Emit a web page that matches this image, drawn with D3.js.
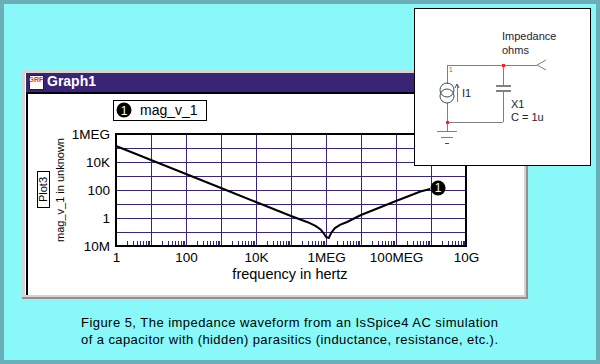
<!DOCTYPE html>
<html>
<head>
<meta charset="utf-8">
<title>Graph1</title>
<script src="https://cdn.jsdelivr.net/npm/d3@7"></script>
<style>
html, body { margin: 0; padding: 0; background: #88f8f8; }
svg { display: block; font-family: "Liberation Sans", Arial, sans-serif; }
</style>
</head>
<body>
<div id="chart"></div>
<script>
// valeurs
var frequency = [1, 10, 100, 1e3, 1e4, 1e5, 3e5, 5e5, 7e5, 8.5e5, 1e6, 1.2e6, 1.4e6, 1.8e6, 2.5e6, 4e6, 1e7, 1e8, 5e8, 9.4e8];
var magnitude = [1.39e5, 1.39e4, 1390, 139, 13.9, 1.39, 0.5, 0.27, 0.15, 0.085, 0.044, 0.037, 0.085, 0.19, 0.32, 0.52, 1.64, 16.4, 78, 118];

var xTicks = [1, 100, 1e4, 1e6, 1e8, 1e10];
var xTickLabels = ["1", "100", "10K", "1MEG", "100MEG", "10G"];
var yTicks = [1e6, 1e4, 100, 1, 0.01];
var yTickLabels = ["1MEG", "10K", "100", "1", "10M"];

var captionLines = [
    "Figure 5, The impedance waveform from an IsSpice4 AC simulation",
    "of a capacitor with (hidden) parasitics (inductance, resistance, etc.)."
];

var W = 600, H = 364;
var plot = {left: 116, right: 466, top: 134, bottom: 246};
var grid = "#3a2476", wire = "#808080";

var svg = d3.select("#chart").append("svg")
    .attr("width", W)
    .attr("height", H);

function rect(x, y, w, h, fill, stroke) {
    return svg.append("rect")
        .attr("x", x).attr("y", y)
        .attr("width", w).attr("height", h)
        .attr("fill", fill)
        .attr("stroke", stroke || "none")
        .attr("shape-rendering", "crispEdges");
}

function line(x1, y1, x2, y2, color, sw) {
    return svg.append("line")
        .attr("x1", x1).attr("y1", y1)
        .attr("x2", x2).attr("y2", y2)
        .attr("stroke", color)
        .attr("stroke-width", sw || 1)
        .attr("shape-rendering", "crispEdges");
}

function label(x, y, txt, size, anchor, color) {
    return svg.append("text")
        .attr("x", x).attr("y", y)
        .attr("font-size", size)
        .attr("text-anchor", anchor || "start")
        .attr("fill", color || "#000")
        .text(txt);
}

// fond et bordure
rect(0, 0, W, H, "#6aafb8");
rect(4, 4, W - 8, H - 8, "#88f8f8");

// fenetre Graph1
rect(22, 70, 506, 229, "#909090");
rect(22, 70, 504, 227, "#d4d4d4");
rect(25, 73, 499, 222, "#fff");
rect(26, 73, 498, 19, grid);
rect(26, 92, 498, 2, "#000");
rect(26, 92, 2, 203, "#000");
rect(28, 94, 496, 200, "#fff");

// icone + titre
rect(29, 75, 14, 14, "#fff", "#222");
svg.append("text").attr("x", 36).attr("y", 82)
    .attr("font-size", 7).attr("font-weight", "bold")
    .attr("text-anchor", "middle").attr("fill", "#e8301c").text("GRF");
label(47, 86, "Graph1", 14, "start", "#fff").attr("font-weight", "bold");

// echelles
var x = d3.scaleLog().domain([1, 1e10]).range([plot.left, plot.right]);
var y = d3.scaleLog().domain([0.01, 1e6]).range([plot.bottom, plot.top]);

// grille : une ligne par decade
var decadesX = d3.range(0, 11).map(function(d) { return Math.pow(10, d); });
var decadesY = d3.range(-2, 7).map(function(d) { return Math.pow(10, d); });

svg.append("g")
    .attr("transform", "translate(0," + plot.bottom + ")")
    .call(d3.axisBottom(x).tickValues(decadesX).tickSize(plot.top - plot.bottom).tickFormat(""))
    .call(function(g) { g.select(".domain").remove(); })
    .selectAll("line").attr("stroke", grid).attr("shape-rendering", "crispEdges");

svg.append("g")
    .attr("transform", "translate(" + plot.left + ",0)")
    .call(d3.axisLeft(y).tickValues(decadesY).tickSize(plot.left - plot.right).tickFormat(""))
    .call(function(g) { g.select(".domain").remove(); })
    .selectAll("line").attr("stroke", grid).attr("shape-rendering", "crispEdges");

// petites graduations en bas
var minorX = [];
decadesX.slice(0, 10).forEach(function(d) {
    d3.range(2, 10).forEach(function(k) { minorX.push(d * k); });
});
svg.append("g")
    .attr("transform", "translate(0," + plot.bottom + ")")
    .call(d3.axisBottom(x).tickValues(minorX).tickSize(-5).tickFormat(""))
    .call(function(g) { g.select(".domain").remove(); })
    .selectAll("line").attr("stroke", grid).attr("shape-rendering", "crispEdges");

// axes avec leurs textes
var axisX = svg.append("g")
    .attr("transform", "translate(0," + plot.bottom + ")")
    .call(d3.axisBottom(x).tickValues(xTicks).tickSize(0).tickPadding(6)
        .tickFormat(function(d, i) { return xTickLabels[i]; }));
axisX.select(".domain").remove();
axisX.selectAll("text").attr("font-size", 13.5).attr("font-family", null).attr("fill", "#000");

var axisY = svg.append("g")
    .attr("transform", "translate(" + plot.left + ",0)")
    .call(d3.axisLeft(y).tickValues(yTicks).tickSize(0).tickPadding(6)
        .tickFormat(function(d, i) { return yTickLabels[i]; }));
axisY.select(".domain").remove();
axisY.selectAll("text").attr("font-size", 13.5).attr("font-family", null).attr("fill", "#000");

// cadre du trace
svg.append("rect")
    .attr("x", plot.left).attr("y", plot.top)
    .attr("width", plot.right - plot.left).attr("height", plot.bottom - plot.top)
    .attr("fill", "none").attr("stroke", "#000").attr("stroke-width", 2)
    .attr("shape-rendering", "crispEdges");

// courbe
var path = d3.line()
    .x(function(d, i) { return x(frequency[i]); })
    .y(function(d) { return y(d); });
svg.append("path")
    .attr("d", path(magnitude))
    .attr("fill", "none")
    .attr("stroke", "#000")
    .attr("stroke-width", 2);

function badge(cx, cy) {
    svg.append("circle").attr("cx", cx).attr("cy", cy).attr("r", 7.5).attr("fill", "#000");
    svg.append("text").attr("x", cx).attr("y", cy + 4.5)
        .attr("font-size", 12).attr("text-anchor", "middle").attr("fill", "#fff").text("1");
}
badge(x(frequency[frequency.length - 1]) + 8, y(magnitude[magnitude.length - 1]) - 1);

// legende
rect(113.5, 100.5, 93, 20, "#fff", "#000");
badge(124, 110);
label(140, 115, "mag_v_1", 14);

// textes d'axes
label(290, 279, "frequency in hertz", 14.5, "middle");
svg.append("text")
    .attr("transform", "translate(64,190) rotate(-90)")
    .attr("font-size", 11).attr("text-anchor", "middle")
    .text("mag_v_1 in unknown");
rect(37.5, 171.5, 12, 36, "#fff", "#000");
svg.append("text")
    .attr("transform", "translate(47,189.5) rotate(-90)")
    .attr("font-size", 11).attr("text-anchor", "middle")
    .text("Plot3");

// legende de la figure
captionLines.forEach(function(t, i) {
    label(81, 327 + i * 17, t, 13).attr("textLength", 417).attr("lengthAdjust", "spacing");
});

// schema
rect(414.5, 8.5, 176, 157, "#fff", "#000");
line(447, 65, 537, 65, wire);
line(537, 65, 546, 60, wire).attr("shape-rendering", null);
line(537, 65, 546, 70, wire).attr("shape-rendering", null);
line(447, 65, 447, 84, wire);
line(447, 103, 447, 122, wire);
line(447, 122, 503, 122, wire);
line(503, 65, 503, 86, wire);
line(503, 91, 503, 122, wire);
line(496, 86, 511, 86, wire, 1.5);
line(496, 91, 511, 91, wire, 1.5);
[90, 96].forEach(function(cy) {
    svg.append("circle").attr("cx", 447).attr("cy", cy).attr("r", 7)
        .attr("fill", "none").attr("stroke", "#3c5050");
});
line(457, 85, 457, 102, wire);
line(457, 84, 455, 88, "#3c5050").attr("shape-rendering", null);
line(457, 84, 459, 88, "#3c5050").attr("shape-rendering", null);
line(447, 122, 447, 131, wire);
line(437, 131, 457, 131, wire);
line(441, 137, 453, 137, wire);
line(445, 143, 449, 143, "#3c5050");
rect(502, 64, 3, 3, "#ff2020");
rect(446, 121, 3, 3, "#ff2020");
label(449, 72, "1", 7, "start", "#ff3030");
label(462, 97, "I1", 11, "start", "#223");
label(502, 40, "Impedance", 11, "start", "#223");
label(502, 54, "ohms", 11, "start", "#223");
label(511, 108, "X1", 11, "start", "#223");
label(511, 121, "C = 1u", 11, "start", "#223");
</script>
</body>
</html>
